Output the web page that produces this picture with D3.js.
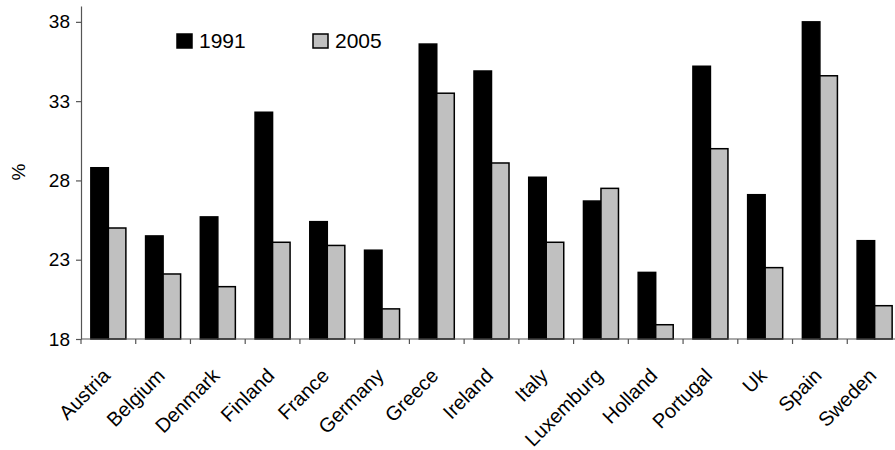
<!DOCTYPE html>
<html>
<head>
<meta charset="utf-8">
<script src="https://cdn.jsdelivr.net/npm/d3@7"></script>
<style>
  html, body { margin: 0; padding: 0; background: #fff; }
  svg { display: block; font-family: "Liberation Sans", Arial, sans-serif; }
</style>
</head>
<body>
<svg id="chart" width="895" height="450"></svg>
<script>
// Countries shown along the x axis
const countries = ["Austria", "Belgium", "Denmark", "Finland", "France", "Germany", "Greece",
  "Ireland", "Italy", "Luxemburg", "Holland", "Portugal", "Uk", "Spain", "Sweden"];
// Series labels
const years = ["1991", "2005"];
// Values (%) per country
const values1991 = [28.8, 24.5, 25.7, 32.3, 25.4, 23.6, 36.6, 34.9, 28.2, 26.7, 22.2, 35.2, 27.1, 38.0, 24.2];
const values2005 = [25.0, 22.1, 21.3, 24.1, 23.9, 19.9, 33.5, 29.1, 24.1, 27.5, 18.9, 30.0, 22.5, 34.6, 20.1];
// Y axis ticks
const yTicks = [18, 23, 28, 33, 38];

const colors = { "1991": "#000000", "2005": "#c0c0c0" };

const svg = d3.select("#chart");
const plot = { left: 81, right: 902, top: 6, bottom: 339 };

const y = d3.scaleLinear().domain([18, 39]).range([plot.bottom, plot.top]);
const x0 = d3.scaleBand().domain(countries).range([plot.left, plot.right])
  .paddingInner(0.36).paddingOuter(0.18);
const x1 = d3.scaleBand().domain(years).range([0, x0.bandwidth()]);

const rows = countries.map((c, i) => ({ country: c, "1991": values1991[i], "2005": values2005[i] }));

// Bars
const groups = svg.append("g").selectAll("g").data(rows).join("g")
  .attr("transform", d => `translate(${x0(d.country)},0)`);
groups.selectAll("rect").data(d => years.map(k => ({ key: k, value: d[k] }))).join("rect")
  .attr("x", d => x1(d.key))
  .attr("y", d => y(d.value))
  .attr("width", x1.bandwidth())
  .attr("height", d => y(18) - y(d.value))
  .attr("fill", d => colors[d.key])
  .attr("stroke", "#000")
  .attr("stroke-width", 1.5);

// Y axis
const yAxis = svg.append("g").attr("transform", `translate(${plot.left},0)`)
  .call(d3.axisLeft(y).tickValues(yTicks).tickSize(5).tickPadding(6).tickSizeOuter(0));
yAxis.select(".domain").attr("stroke", "#555").attr("stroke-width", 1.2);
yAxis.selectAll(".tick line").attr("stroke", "#555").attr("stroke-width", 1.2);
yAxis.selectAll(".tick text").attr("font-size", 19).attr("fill", "#000")
  .attr("font-family", "Liberation Sans, Arial, sans-serif");

// X axis line and boundary ticks
const xAxis = svg.append("g");
xAxis.append("line")
  .attr("x1", plot.left).attr("x2", plot.right).attr("y1", plot.bottom).attr("y2", plot.bottom)
  .attr("stroke", "#555").attr("stroke-width", 1.2);
const step = x0.step();
const boundaries = countries.map(c => x0(c) - step * x0.paddingInner() / 2);
xAxis.selectAll("line.tick").data(boundaries).join("line")
  .attr("class", "tick")
  .attr("x1", d => d).attr("x2", d => d)
  .attr("y1", plot.bottom).attr("y2", plot.bottom + 5)
  .attr("stroke", "#555").attr("stroke-width", 1.2);

// Rotated country labels
xAxis.selectAll("text").data(countries).join("text")
  .attr("transform", d => `translate(${x0(d) + x0.bandwidth() / 2 - 2},372) rotate(-45)`)
  .attr("text-anchor", "end")
  .attr("dy", "0.35em")
  .attr("font-size", 20)
  .text(d => d);

// Y axis title
svg.append("text")
  .attr("transform", "translate(25,172) rotate(-90)")
  .attr("text-anchor", "middle")
  .attr("font-size", 19)
  .text("%");

// Legend
const legendItems = [
  { key: "1991", x: 177 },
  { key: "2005", x: 313 }
];
const legend = svg.append("g").selectAll("g").data(legendItems).join("g")
  .attr("transform", d => `translate(${d.x},34)`);
legend.append("rect")
  .attr("width", 15).attr("height", 14)
  .attr("fill", d => colors[d.key])
  .attr("stroke", "#000").attr("stroke-width", 1.5);
legend.append("text")
  .attr("x", 22).attr("y", 14)
  .attr("font-size", 21)
  .text(d => d.key);
</script>
</body>
</html>
